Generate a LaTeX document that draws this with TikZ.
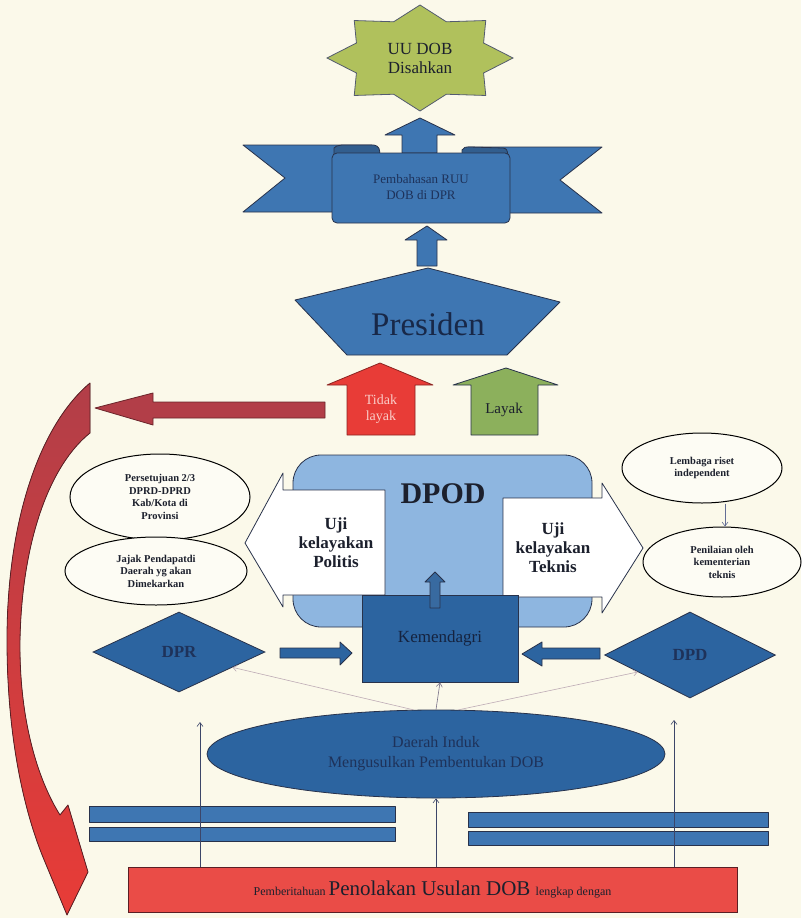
\documentclass[tikz,border=0pt]{standalone}
\usepackage{fontspec}
\IfFontExistsTF{LiberationSerif-Regular.ttf}
  {\setmainfont{LiberationSerif}[Extension=.ttf,UprightFont=*-Regular,BoldFont=*-Bold]}
  {\setmainfont{Liberation Serif}}
\usetikzlibrary{shapes.geometric,arrows.meta}
\definecolor{bg}{RGB}{251,249,234}
\definecolor{starg}{RGB}{176,193,92}
\definecolor{blueA}{RGB}{62,118,178}
\definecolor{blueD}{RGB}{44,100,160}
\definecolor{blueL}{RGB}{142,182,224}
\definecolor{edge}{RGB}{40,50,75}
\definecolor{redA}{RGB}{232,60,55}
\definecolor{redD}{RGB}{178,62,72}
\definecolor{greenA}{RGB}{140,176,92}
\definecolor{txtD}{RGB}{28,32,45}
\definecolor{txtB}{RGB}{30,50,90}
\definecolor{ellf}{RGB}{253,252,244}
\begin{document}
\begin{tikzpicture}[x=1pt,y=-1pt,
  blk/.style={draw=edge,line width=0.8pt,line join=round},
  lbl/.style={align=center,inner sep=0pt,text=txtD},
  oval/.style={draw=black,line width=1pt,fill=ellf,ellipse,inner sep=0pt,align=center,
     font=\fontsize{10.5}{12.5}\selectfont\bfseries,text=txtD},
  thinar/.style={line width=0.6pt,-{Straight Barb[length=4pt,width=6pt]}},
  dia/.style={diamond,draw=edge,line width=0.8pt,fill=blueD,inner sep=0pt,
     font=\fontsize{17}{19}\selectfont\bfseries,text=txtB}]
\fill[bg] (0,0) rectangle (801,918);
\useasboundingbox (0,0) rectangle (801,918);

% star
\begin{scope}[shift={(420,58)},xscale=93,yscale=53]
\filldraw[fill=starg,draw=edge!80,line width=0.8pt,line join=miter]
  (0:1) \foreach \i in {1,...,15} { -- ({\i*22.5}:{ifthenelse(isodd(\i),0.74,1)}) } -- cycle;
\end{scope}
\node[lbl,font=\fontsize{17}{19}\selectfont] (uu) at (420,58) {UU DOB\\Disahkan};

% arrow star <- ribbon
\filldraw[blk,fill=blueA] (420,118) -- (455,135) -- (437,135) -- (437,153) -- (402,153) -- (402,135) -- (385,135) -- cycle;

% ribbon
\filldraw[blk,fill=blueA] (243,145) -- (372,145) -- (372,212) -- (243,212) -- (285,178) -- cycle;
\filldraw[blk,fill=blueA] (602,147) -- (468,147) -- (468,213) -- (602,213) -- (560,180) -- cycle;
\filldraw[blk,fill=blueA!80!black] (334,156) -- (334,148) .. controls (336,146) .. (342,145) -- (374,145) .. controls (379,146) and (380,149) .. (380,156) -- cycle;
\filldraw[blk,fill=blueA!80!black] (462,156) -- (462,150) .. controls (463,147) and (466,147) .. (470,147) -- (503,148) .. controls (507,149) .. (508,156) -- cycle;
\filldraw[blk,fill=blueA,rounded corners=5pt] (332,153) rectangle (510,223);
\node[lbl,text=txtB,font=\fontsize{13}{16}\selectfont] (rib) at (421,187) {Pembahasan RUU\\DOB di DPR};

% arrow ribbon <- presiden
\filldraw[blk,fill=blueA] (427,226) -- (447,240) -- (437,240) -- (437,266) -- (417,266) -- (417,240) -- (405,240) -- cycle;

% Presiden
\filldraw[blk,fill=blueA] (428,268) -- (560,302) -- (507,355) -- (347,355) -- (295,300) -- cycle;
\node[lbl,text=txtB!80!black,font=\fontsize{33}{36}\selectfont] (pres) at (428,324) {Presiden};

% tidak layak / layak
\filldraw[blk,draw=redA!60!black,fill=redA] (380,363) -- (433,385) -- (415,385) -- (415,435) -- (347,435) -- (347,385) -- (327,385) -- cycle;
\node[lbl,text={rgb,255:red,250;green,205;blue,200},font=\fontsize{14}{16}\selectfont] (tl) at (381,409) {Tidak\\layak};
\filldraw[blk,fill=greenA] (506,368) -- (558,385) -- (538,385) -- (538,435) -- (471,435) -- (471,385) -- (453,385) -- cycle;
\node[lbl,font=\fontsize{15}{17}\selectfont] (ly) at (504,410) {Layak};

% dark red arrow to the left
\filldraw[blk,draw=redD!60!black,fill=redD] (325,402) -- (153,402) -- (153,393) -- (95,408) -- (153,425) -- (153,418) -- (325,418) -- cycle;

% big red curved arrow
\filldraw[draw=redD!50!black,line width=0.8pt,line join=round,top color=redD,bottom color=redA]
  (90,383) -- (90,433) .. controls (50,465) and (22,540) .. (20,640)
  .. controls (19,720) and (38,780) .. (60,815) -- (68,805) -- (88,872) -- (67,915)
  -- (45,862) .. controls (25,815) and (7,740) .. (7,640)
  .. controls (7,520) and (40,425) .. (90,383) -- cycle;

% DPOD
\filldraw[blk,fill=blueL,rounded corners=28pt] (293,455) rectangle (592,627);
\node[lbl,font=\fontsize{30}{32}\selectfont\bfseries] (dpod) at (443,494) {DPOD};

% Uji kelayakan arrows
\filldraw[blk,fill=white] (385,490) -- (283,490) -- (283,473) -- (245,543) -- (283,607) -- (283,595) -- (385,595) -- cycle;
\node[lbl,font=\fontsize{17}{19}\selectfont\bfseries] (pol) at (336,543) {Uji\\kelayakan\\Politis};
\filldraw[blk,fill=white] (503,498) -- (602,498) -- (602,483) -- (643,548) -- (602,613) -- (602,597) -- (503,597) -- cycle;
\node[lbl,font=\fontsize{17}{19}\selectfont\bfseries] (tek) at (553,548) {Uji\\kelayakan\\Teknis};

% Kemendagri
\node[draw=edge,line width=0.8pt,fill=blueD,minimum width=156pt,minimum height=87pt,inner sep=0pt,
  font=\fontsize{17}{19}\selectfont,text=txtB!70!black] (kem) at (440,638.5) {Kemendagri};
\filldraw[blk,fill=blueA!90!black] (435,572) -- (445,582) -- (440,582) -- (440,608) -- (430,608) -- (430,582) -- (425,582) -- cycle;

% DPR / DPD
\node[dia,minimum width=172pt,minimum height=80pt] (dpr) at (179,652) {DPR};
\node[dia,minimum width=171pt,minimum height=86pt] (dpd) at (690,655) {DPD};
\filldraw[blk,fill=blueD] (280,648) -- (340,648) -- (340,642) -- (352,653) -- (340,665) -- (340,658) -- (280,658) -- cycle;
\filldraw[blk,fill=blueD] (600,648) -- (542,648) -- (542,642) -- (522,654) -- (542,666) -- (542,659) -- (600,659) -- cycle;

% left ovals
\node[oval,minimum width=180pt,minimum height=86pt] (setuju) at (160,497) {Persetujuan 2/3\\DPRD-DPRD\\Kab/Kota di\\Provinsi};
\node[oval,minimum width=182pt,minimum height=68pt] (jajak) at (156,571) {Jajak Pendapatdi\\Daerah yg akan\\Dimekarkan};
% right ovals
\node[oval,minimum width=160pt,minimum height=70pt] (lem) at (702,468) {Lembaga riset\\independent};
\node[oval,minimum width=158pt,minimum height=70pt] (pen) at (722,562) {Penilaian oleh\\kementerian\\teknis};
\coordinate (lp) at (725,0);
\draw[thinar,draw={rgb,255:red,100;green,110;blue,150}] (lem.south -| lp) -- (pen.north -| lp);

% Daerah induk
\node[ellipse,draw=edge,line width=0.8pt,fill=blueD,minimum width=458pt,minimum height=88pt,inner sep=0pt,
  align=center,font=\fontsize{16}{20}\selectfont,text=txtB] (daerah) at (436,754) {Daerah Induk\\Mengusulkan Pembentukan DOB};
\draw[thinar,draw={rgb,255:red,190;green,172;blue,182}] (daerah.117) -- (dpr.-16);
\draw[thinar,draw={rgb,255:red,190;green,172;blue,182}] (daerah.63) -- (dpd.-162);
\draw[thinar,draw={rgb,255:red,120;green,112;blue,135}] (daerah.north) -- (kem.south);

% bars
\filldraw[blk,fill=blueA] (89,806) rectangle (395,822);
\filldraw[blk,fill=blueA] (89,827) rectangle (395,841);
\filldraw[blk,fill=blueA] (468,812) rectangle (768,827);
\filldraw[blk,fill=blueA] (468,831) rectangle (768,845);

% red box
\node[draw=redD!50!black,line width=1pt,fill=redA!92!white,minimum width=609pt,minimum height=45pt,inner sep=0pt,text=txtD]
  (tolak) at (432.5,889.5) {\fontsize{12}{14}\selectfont Pemberitahuan \fontsize{21}{24}\selectfont Penolakan Usulan DOB \fontsize{12}{14}\selectfont lengkap dengan};

% vertical arrows
\coordinate (vl) at (200,722);
\coordinate (vr) at (674,720);
\draw[thinar,draw={rgb,255:red,60;green,70;blue,105}] (tolak.north -| vl) -- (vl);
\draw[thinar,draw={rgb,255:red,60;green,70;blue,105}] (tolak.north -| vr) -- (vr);
\draw[thinar,draw={rgb,255:red,60;green,70;blue,105}] (tolak.north -| daerah.south) -- (daerah.south);
\end{tikzpicture}
\end{document}
